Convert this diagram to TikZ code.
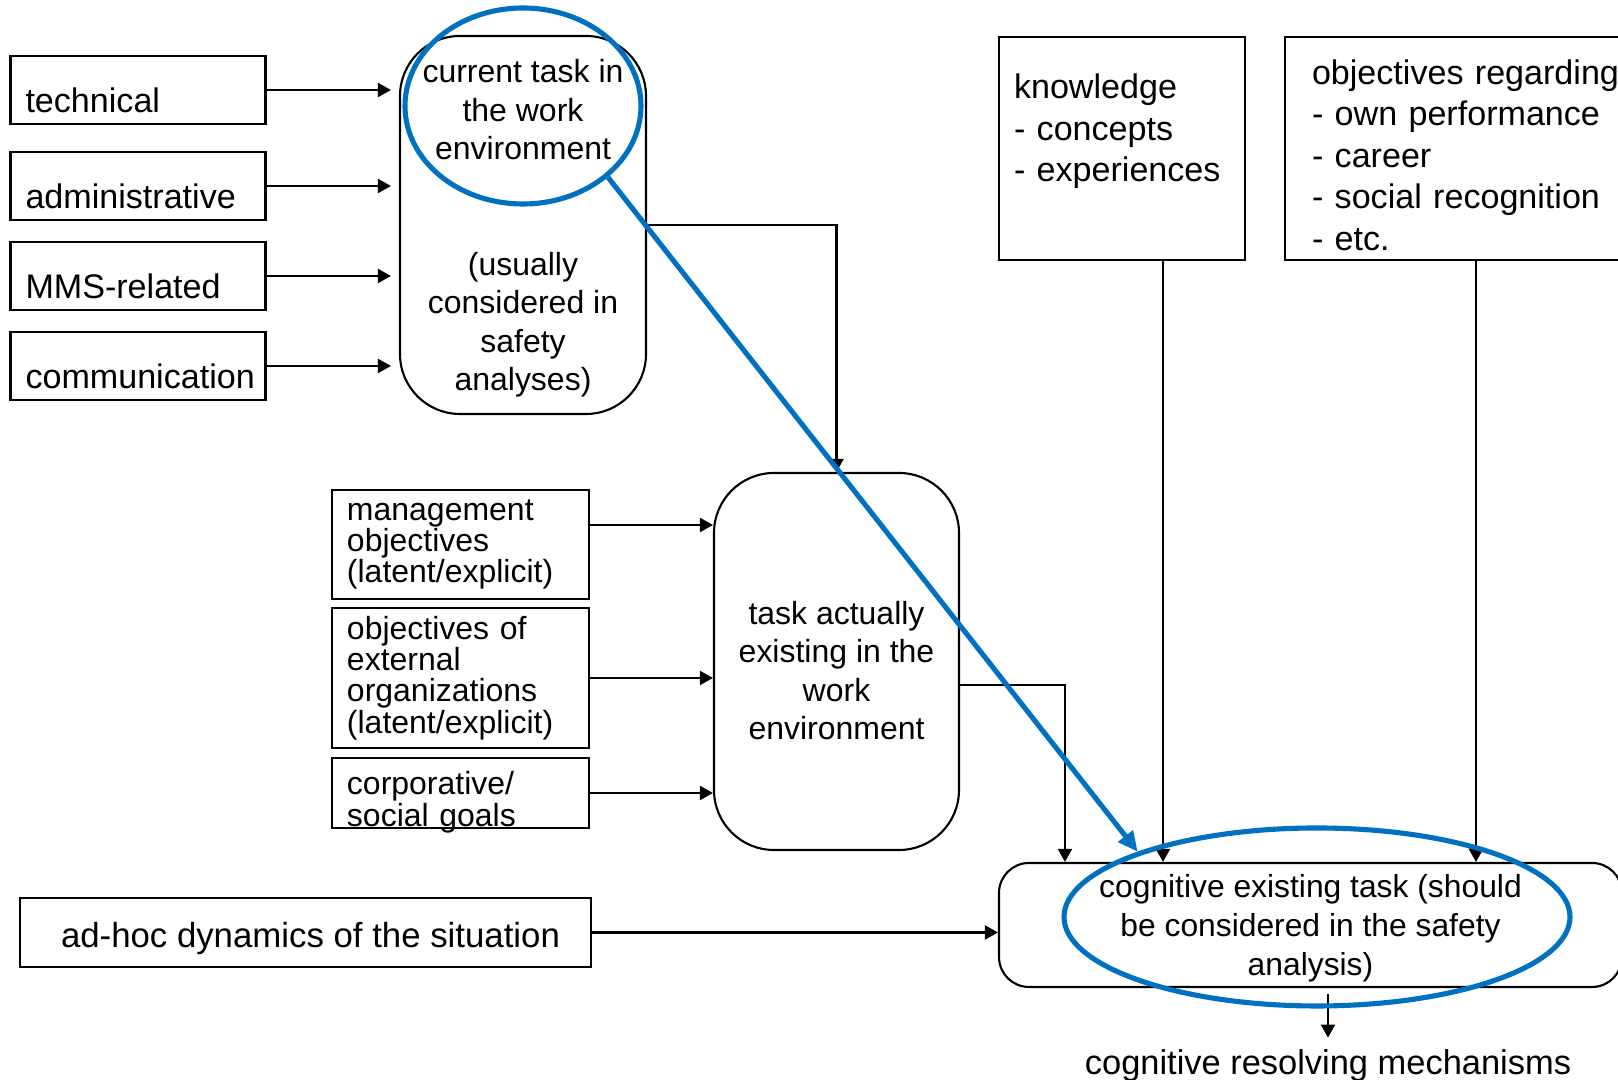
\documentclass[tikz,border=0pt]{standalone}
\usepackage{fontspec}
\setmainfont{Liberation Sans}
\usetikzlibrary{arrows.meta,shapes.geometric,positioning}
\definecolor{ringblue}{RGB}{0,112,192}
\tikzset{node distance=0.9cm, >={Triangle[length=0.13cm,width=0.14cm]},
  srcbox/.style={draw, line width=0.6pt, text width=2.25cm, align=left, inner xsep=0.15cm, inner ysep=0.1cm,
    minimum height=0.68cm, text height=0.45cm, text depth=0cm, font=\fontsize{9.7}{11.6}\selectfont},
  goalbox/.style={draw, line width=0.6pt, text width=2.27cm, align=left, inner xsep=0.15cm, inner ysep=0.02cm,
    font=\fontsize{9.1}{8.96}\selectfont},
  taskbox/.style={draw, line width=0.6pt, rounded corners=0.6cm, minimum width=2.46cm, minimum height=3.78cm,
    align=center, font=\fontsize{9.1}{10.95}\selectfont},
  listbox/.style={draw, line width=0.6pt, align=left, inner xsep=0.15cm, font=\fontsize{9.7}{11.8}\selectfont},
  ring/.style={draw=ringblue, line width=1.45pt, ellipse, inner sep=0pt},
  conn/.style={->, line width=0.6pt}
}
\begin{document}
\begin{tikzpicture}
        \path[use as bounding box, clip] (0,0) rectangle (16.18,10.80);

        \node[srcbox] (tech) at (1.38,9.90) {technical};
        \node[srcbox, node distance=0.96cm] (admin) [below of=tech] {administrative};
        \node[srcbox] (mms) [below of=admin] {MMS-related};
        \node[srcbox] (comm) [below of=mms] {communication};

        \node[taskbox, text depth=0cm] (cur) at (5.23,8.55) {current task in\\the work\\environment\\[0.77cm](usually\\considered in\\safety\\analyses)};

        \node[goalbox, minimum height=1.09cm] (mgmt) at (4.605,5.355) {management\\objectives\\(latent/explicit)};
        \node[goalbox, minimum height=1.40cm] (ext) at (4.605,4.02) {objectives of\\external\\organizations\\(latent/explicit)};
        \node[goalbox, minimum height=0.70cm, text height=0.276cm, text depth=0.24cm] (corp) at (4.605,2.87) {corporative/\\social goals};

        \node[taskbox, minimum width=2.45cm, minimum height=3.77cm, text height=1.57cm] (mid) at (8.365,4.185) {task actually\\existing in the\\work\\environment};

        \node[listbox, text width=2.16cm, inner ysep=0.1cm, text height=0.52cm, text depth=1.51cm] (know) at (11.22,9.315) {knowledge\\- concepts\\- experiences};
        \node[listbox, text width=3.28cm, inner xsep=0.27cm, inner ysep=0.03cm, text height=0.38cm, minimum height=2.23cm] (obj) at (14.76,9.315) {objectives regarding\\- own performance\\- career\\- social recognition\\- etc.};

        \node[draw, line width=0.6pt, rounded corners=0.3cm, minimum width=6.23cm, minimum height=1.24cm, inner ysep=0.03cm, text depth=0cm,
          align=center, font=\fontsize{9.05}{11}\selectfont] (cog) at (13.105,1.55) {cognitive existing task (should\\be considered in the safety\\analysis)};
        \node[draw, line width=0.6pt, minimum width=5.71cm, minimum height=0.69cm, text height=0.37cm,
          font=\fontsize{9.9}{11.8}\selectfont] (adhoc) at (3.055,1.475) {\hspace*{0.1cm}ad-hoc dynamics of the situation};
        \node[anchor=base, font=\fontsize{9.8}{11.8}\selectfont] (res) at (13.28,0.05) {cognitive resolving mechanisms};

        \foreach \src in {tech,admin,mms,comm}
          \draw[conn, shorten >=0.08cm] (\src.east) -- (\src -| cur.west);
        \draw[conn] (cur.east) -| (mid.north);

        \draw[conn] ([yshift=0.195cm]mgmt.east) -- ([yshift=0.195cm]mgmt.east -| mid.west);
        \draw[conn] (ext.east) -- (ext -| mid.west);
        \draw[conn] (corp.east) -- (corp -| mid.west);

        \draw[conn] ([yshift=-0.235cm]mid.east) -| ([xshift=0.67cm]cog.north west);
        \draw[conn] ([xshift=0.41cm]know.south) -- ([xshift=0.41cm]know.south |- cog.north);
        \draw[conn] (obj.south) -- (obj.south |- cog.north);
        \draw[conn] (adhoc.east) -- (adhoc.east -| cog.west);
        \draw[conn, shorten <=0.06cm] (cog.south -| res.north) -- (res.north);

        \node[ring, minimum width=2.36cm, minimum height=1.96cm] (ring1) at (5.23,9.74) {};
        \node[ring, minimum width=5.06cm, minimum height=1.78cm] (ring2) at (13.17,1.63) {};
        \draw[ringblue, line width=1.45pt, -{Triangle[length=0.2cm,width=0.18cm]}] (ring1.-40) -- (ring2.160);
\end{tikzpicture}
\end{document}
